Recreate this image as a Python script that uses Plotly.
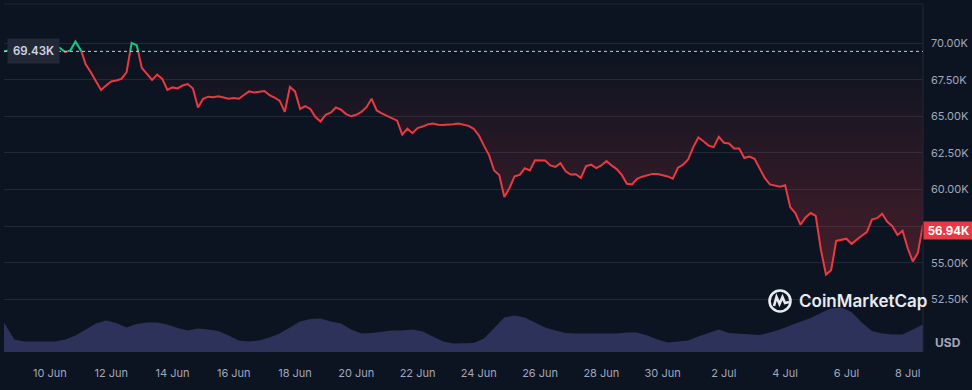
import pandas as pd
import numpy as np
import plotly.graph_objects as go

# ---------------- data ----------------
price_k = [
    69.43, 69.5, 69.55, 69.5, 69.6, 69.45, 69.5, 69.6, 69.5, 69.7,
    69.8, 69.65, 69.38, 69.5, 70.1, 69.6, 68.55, 68.0, 67.35, 66.8,
    67.1, 67.38, 67.44, 67.55, 68.0, 70.0, 69.85, 68.3, 67.9, 67.48,
    67.85, 67.55, 66.8, 66.97, 66.9, 67.1, 67.2, 66.9, 65.6, 66.2,
    66.34, 66.3, 66.36, 66.28, 66.2, 66.25, 66.2, 66.45, 66.7, 66.62,
    66.65, 66.72, 66.45, 66.28, 66.05, 65.3, 67.0, 66.7, 65.5, 65.7,
    65.5, 64.95, 64.65, 65.1, 65.25, 65.6, 65.45, 65.15, 65.0, 65.1,
    65.3, 65.62, 66.2, 65.4, 65.2, 65.05, 64.9, 64.7, 63.75, 64.15,
    63.85, 64.2, 64.3, 64.45, 64.5, 64.42, 64.4, 64.4, 64.45, 64.5,
    64.45, 64.35, 64.15, 63.7, 63.0, 62.35, 61.3, 61.0, 59.5, 60.1,
    60.9, 61.0, 61.45, 61.3, 62.0, 62.0, 61.98, 61.65, 61.55, 61.8,
    61.25, 61.03, 61.05, 60.8, 61.6, 61.7, 61.47, 61.65, 61.95, 61.65,
    61.4, 61.0, 60.4, 60.35, 60.73, 60.88, 60.98, 61.07, 61.07, 61.0,
    60.9, 60.75, 61.5, 61.7, 62.05, 62.9, 63.55, 63.3, 63.0, 62.9,
    63.6, 63.2, 63.15, 62.8, 62.8, 62.15, 62.25, 62.1, 61.4, 60.8,
    60.35, 60.25, 60.2, 60.3, 58.8, 58.4, 57.6, 58.1, 58.4, 58.2,
    55.9, 54.2, 54.5, 56.5, 56.6, 56.65, 56.3, 56.6, 56.85, 57.1,
    57.95, 58.05, 58.35, 57.8, 57.5, 56.9, 57.2, 56.0, 55.1, 55.7,
    57.6,
]
price_start = "2024-06-08 12:00"
price_step = "4h"

volume_b = [
    35.4, 15.0, 12.6, 12.6, 12.6, 12.6, 15.0, 19.8, 27.0, 34.2,
    37.8, 34.8, 29.4, 33.6, 35.4, 35.4, 33.0, 28.8, 25.8, 28.2,
    27.0, 25.2, 19.8, 13.8, 12.6, 13.8, 17.4, 22.2, 29.4, 36.6,
    39.6, 40.2, 36.6, 34.2, 27.0, 22.2, 22.8, 24.6, 25.8, 25.8,
    27.0, 24.6, 18.6, 12.6, 10.2, 10.2, 10.8, 16.2, 29.4, 41.4,
    43.8, 41.4, 35.4, 29.4, 25.8, 22.8, 22.2, 22.2, 22.2, 22.2,
    22.2, 23.4, 23.4, 19.8, 15.0, 11.4, 12.6, 13.8, 18.6, 22.8,
    27.0, 22.8, 22.2, 21.6, 20.4, 23.4, 27.0, 31.8, 36.6, 40.8,
    46.8, 52.2, 53.4, 48.0, 35.4, 25.2, 22.2, 21.0, 21.0, 27.0,
    33.0,
]
volume_step = "8h"

open_price = 69430
open_label = "69.43K"
last_label = "56.94K"
last_price = 56940

x_tick_dates = ["2024-06-10", "2024-06-12", "2024-06-14", "2024-06-16", "2024-06-18",
                "2024-06-20", "2024-06-22", "2024-06-24", "2024-06-26", "2024-06-28",
                "2024-06-30", "2024-07-02", "2024-07-04", "2024-07-06", "2024-07-08"]
x_tick_text = ["10 Jun", "12 Jun", "14 Jun", "16 Jun", "18 Jun", "20 Jun", "22 Jun", "24 Jun",
               "26 Jun", "28 Jun", "30 Jun", "2 Jul", "4 Jul", "6 Jul", "8 Jul"]
y_tick_vals = [52500, 55000, 57500, 60000, 62500, 65000, 67500, 70000]
# the 57.50K label sits under the current-price badge, so it is left blank
y_tick_text = ["52.50K", "55.00K", "", "60.00K", "62.50K", "65.00K", "67.50K", "70.00K"]

# ---------------- styling ----------------
BG = "#0d1421"
GRID = "#222836"
TXT = "#a1a7bb"
RED = "#ea3943"
GREEN = "#16c784"
VOL = "rgb(44,50,90)"
FONT = "Inter"

W, H = 972, 390
ML, MR, MT, MB = 4, 49, 4, 38
PW, PH = W - ML - MR, H - MT - MB

prices = [p * 1000 for p in price_k]
t = pd.date_range(price_start, periods=len(prices), freq=price_step)
tv = pd.date_range(price_start, periods=len(volume_b), freq=volume_step)

# insert crossing points with the opening price so colours split exactly there
tms = (t - pd.Timestamp("1970-01-01")) // pd.Timedelta("1ms")
xs, ys = [], []
for i, p in enumerate(prices):
    if i > 0:
        p0 = prices[i - 1]
        if (p0 - open_price) * (p - open_price) < 0:
            f = (open_price - p0) / (p - p0)
            xs.append(tms[i - 1] + f * (tms[i] - tms[i - 1]))
            ys.append(open_price)
    xs.append(tms[i])
    ys.append(p)
xd = pd.to_datetime(np.array(xs, dtype="int64"), unit="ms")
red_y = [y if y <= open_price else None for y in ys]
green_y = [y if y >= open_price else None for y in ys]
low_y = [min(y, open_price) for y in ys]

fig = go.Figure()

fig.add_trace(go.Scatter(x=tv, y=volume_b, yaxis="y2", mode="lines",
                         line=dict(width=0), fill="tozeroy", fillcolor=VOL,
                         hoverinfo="skip", showlegend=False))
fig.add_trace(go.Scatter(x=xd, y=[open_price] * len(xd), mode="lines",
                         line=dict(width=0), hoverinfo="skip", showlegend=False))
fig.add_trace(go.Scatter(x=xd, y=low_y, mode="lines", line=dict(width=0),
                         fill="tonexty",
                         fillgradient=dict(type="vertical",
                                           colorscale=[[0, "rgba(234,57,67,0.26)"],
                                                       [1, "rgba(234,57,67,0.0)"]]),
                         hoverinfo="skip", showlegend=False))
fig.add_trace(go.Scatter(x=xd, y=red_y, mode="lines", line=dict(color=RED, width=2),
                         connectgaps=False, hoverinfo="skip", showlegend=False))
fig.add_trace(go.Scatter(x=xd, y=green_y, mode="lines", line=dict(color=GREEN, width=2),
                         connectgaps=False, hoverinfo="skip", showlegend=False))

# price axis: 70K at y=43px, 2.5K per 36.65px
ppx = 2500 / 36.65
y_top = 70000 + (43 - MT) * ppx
y_bot = 70000 - (MT + PH - 43) * ppx

fig.update_layout(
    width=W, height=H, autosize=False,
    margin=dict(l=ML, r=MR, t=MT, b=MB),
    paper_bgcolor=BG, plot_bgcolor=BG,
    font=dict(family=FONT, color=TXT, size=11),
    showlegend=False,
    xaxis=dict(type="date", range=[t[0], t[-1]], tickvals=x_tick_dates, ticktext=x_tick_text,
               showgrid=False, zeroline=False, showline=False, ticks="",
               ticklabelstandoff=13, tickfont=dict(size=11, color=TXT, family=FONT)),
    yaxis=dict(side="right", range=[y_bot, y_top], tickvals=y_tick_vals, ticktext=y_tick_text,
               showgrid=True, gridcolor=GRID, gridwidth=1, zeroline=False, showline=False,
               ticks="", ticklabelstandoff=7, tickfont=dict(size=11, color=TXT, family=FONT)),
    yaxis2=dict(overlaying="y", range=[0, PH * 1.2], visible=False),
)

shapes = [
    dict(type="line", xref="paper", yref="paper", x0=0, x1=1, y0=1, y1=1,
         line=dict(color=GRID, width=1)),
    dict(type="line", xref="paper", yref="paper", x0=1, x1=1, y0=0, y1=1,
         line=dict(color=GRID, width=1)),
    dict(type="line", xref="paper", yref="y", x0=0, x1=1, y0=open_price, y1=open_price,
         line=dict(color="#c9ceda", width=1, dash="dot")),
]
# CoinMarketCap watermark logo
lx = (780 - ML) / PW
ly = (MT + PH - 301) / PH
shapes.append(dict(type="circle", xref="paper", yref="paper", xsizemode="pixel", ysizemode="pixel",
                   xanchor=lx, yanchor=ly, x0=-10.5, x1=10.5, y0=-10.5, y1=10.5,
                   line=dict(color="#e8eaf0", width=2.6)))
shapes.append(dict(type="path", xref="paper", yref="paper", xsizemode="pixel", ysizemode="pixel",
                   xanchor=lx, yanchor=ly,
                   path="M -6,-5 L -3.5,4 L -0.5,-3 L 2.5,4 L 5,-2 L 9,-1",
                   line=dict(color="#e8eaf0", width=2.6)))
fig.update_layout(shapes=shapes)

annotations = [
    dict(text=open_label, xref="paper", yref="y", x=(7 - ML) / PW, y=open_price,
         xanchor="left", yanchor="middle", showarrow=False, bgcolor="#232836",
         font=dict(color="#cfd6e4", size=11.5, family=FONT, weight=600), borderpad=5),
    dict(text="<b>" + last_label + "</b>", xref="paper", yref="y", x=1, y=last_price, yshift=4,
         xanchor="left", yanchor="middle", showarrow=False, bgcolor=RED, width=45, height=13,
         font=dict(color="#ffffff", size=11.5, family=FONT), borderpad=2),
    dict(text="<b>USD</b>", xref="paper", yref="paper", x=(948 - ML) / PW, y=(MT + PH - 342) / PH,
         xanchor="center", yanchor="middle", showarrow=False,
         font=dict(color=TXT, size=12, family=FONT)),
    dict(text="CoinMarketCap", xref="paper", yref="paper", x=(797 - ML) / PW, y=ly,
         xanchor="left", yanchor="middle", showarrow=False,
         font=dict(color="#e8eaf0", size=17, family=FONT, weight=600)),
]
fig.update_layout(annotations=annotations)

fig.write_html("out.html", config=dict(displayModeBar=False, staticPlot=True),
               post_script="document.body.style.margin='0';document.body.style.background='%s';"
                           "document.body.style.overflow='hidden';" % BG)
